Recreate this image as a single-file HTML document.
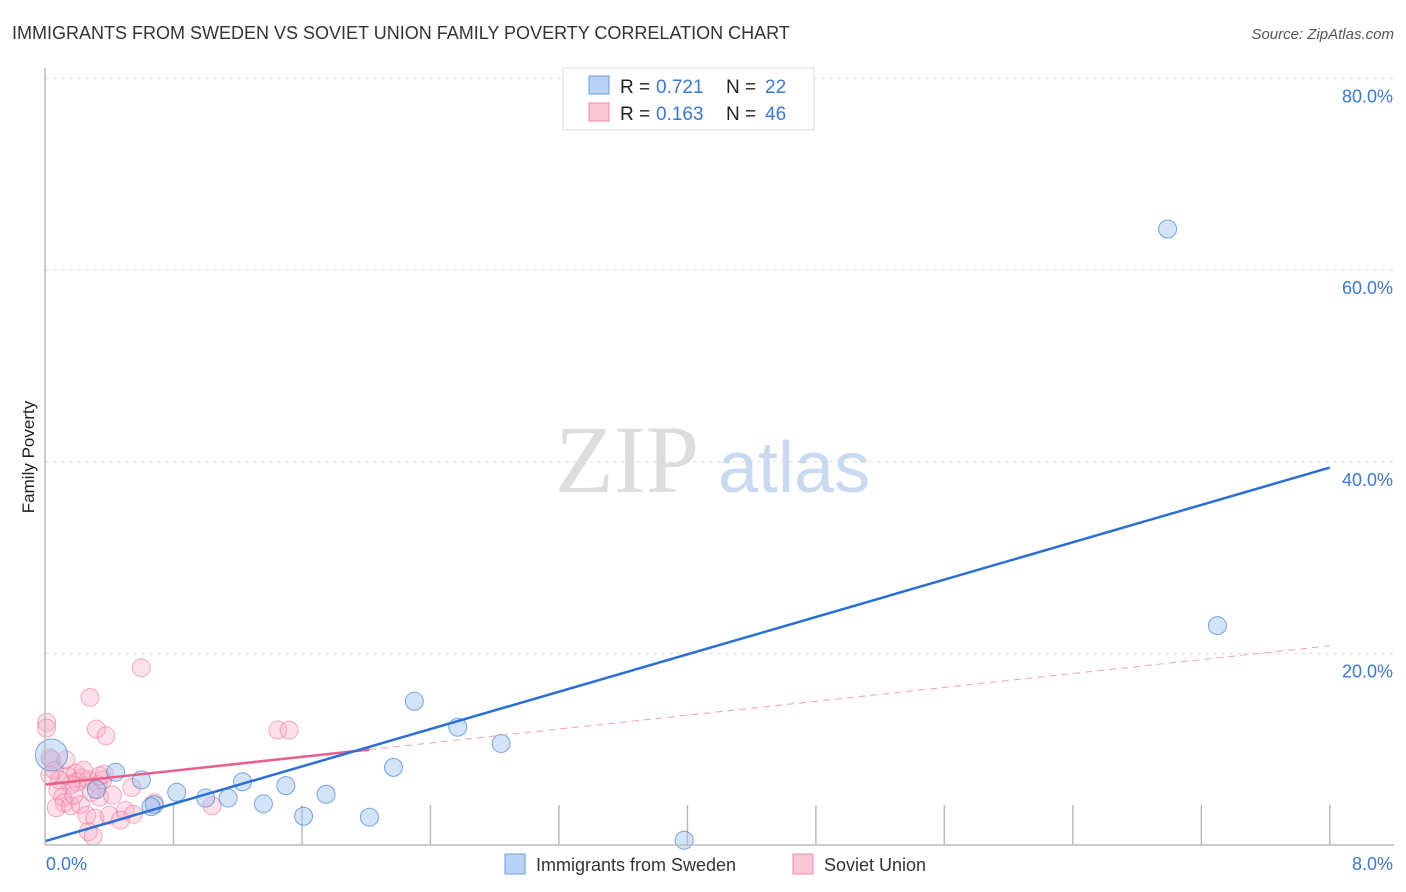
<!DOCTYPE html><html><head><meta charset="utf-8"><style>
body{margin:0;background:#fff;font-family:"Liberation Sans",sans-serif}
svg{display:block}
</style></head><body>
<svg width="1406" height="892">
<text x="12" y="39" font-size="18" fill="#333">IMMIGRANTS FROM SWEDEN VS SOVIET UNION FAMILY POVERTY CORRELATION CHART</text>
<text x="1394" y="39" font-size="15" fill="#555" text-anchor="end" font-style="italic">Source: ZipAtlas.com</text>
<text x="0" y="0" transform="translate(34,457) rotate(-90)" font-size="17" fill="#222" text-anchor="middle">Family Poverty</text>
<g id="grid"></g>
<text x="555" y="492" font-size="96" fill="#ddd" font-family="Liberation Serif">ZIP</text>
<text x="718" y="492" font-size="72" fill="#c9daf0">atlas</text>
<g id="marks"></g>
<line x1="45" y1="68" x2="45" y2="845" stroke="#bbb" stroke-width="1.5"/>
<line x1="45" y1="845" x2="1394" y2="845" stroke="#bbb" stroke-width="1.5"/>
<text x="46" y="870" font-size="18" fill="#3a78d8">0.0%</text>
<text x="1393" y="870" font-size="18" fill="#3a78d8" text-anchor="end">8.0%</text>
<g>
<rect x="563" y="68" width="251" height="62" fill="#fff" stroke="#ddd"/>
<rect x="589" y="76" width="20" height="18" fill="#b8d3f5" stroke="#6a9be0"/>
<rect x="589" y="103" width="20" height="18" fill="#fbc8d8" stroke="#ee8aaa"/>
<text x="620" y="93" font-size="19" fill="#222">R = </text><text x="656" y="93" font-size="19" fill="#3a78d8">0.721</text>
<text x="726" y="93" font-size="19" fill="#222">N = </text><text x="765" y="93" font-size="19" fill="#3a78d8">22</text>
<text x="620" y="120" font-size="19" fill="#222">R = </text><text x="656" y="120" font-size="19" fill="#3a78d8">0.163</text>
<text x="726" y="120" font-size="19" fill="#222">N = </text><text x="765" y="120" font-size="19" fill="#3a78d8">46</text>
</g>
<g>
<rect x="505" y="854" width="20" height="20" fill="#b8d3f5" stroke="#6a9be0"/>
<text x="536" y="871" font-size="18" fill="#333">Immigrants from Sweden</text>
<rect x="793" y="854" width="20" height="20" fill="#fbc8d8" stroke="#ee8aaa"/>
<text x="824" y="871" font-size="18" fill="#333">Soviet Union</text>
</g>
</svg>
<script>
const yTicks=[20,40,60,80];
const xTicks=[0.8,1.6,2.4,3.2,4.0,4.8,5.6,6.4,7.2,8.0];
const swedenX=[0.04,0.32,0.44,0.6,0.68,0.82,1.0,1.14,1.23,1.36,1.5,1.61,1.75,2.02,2.17,2.3,2.57,2.84,3.98,6.99,7.3,0.66];
const swedenY=[9.4,5.8,7.6,6.8,4.2,5.5,4.9,4.9,6.6,4.3,6.2,3.0,5.3,2.9,8.1,15.0,12.3,10.6,0.5,64.3,22.9,4.0];
const sovietX=[0.6,0.28,0.01,0.01,0.32,0.38,1.45,1.52,0.03,0.04,0.06,0.14,0.19,0.23,0.2,0.16,0.27,0.33,0.36,0.08,0.29,0.34,0.11,0.12,0.07,0.16,0.22,0.26,0.31,0.27,0.3,0.4,0.5,0.54,0.55,0.68,1.04,0.34,0.37,0.24,0.09,0.13,0.18,0.42,0.03,0.47];
const sovietY=[18.5,15.4,12.8,12.2,12.1,11.4,12.0,12.0,9.1,8.9,7.8,7.2,7.5,7.0,6.6,6.3,6.8,6.3,6.8,5.7,5.5,5.0,5.0,4.4,3.9,4.1,4.2,3.1,2.8,1.4,0.9,3.1,3.6,6.0,3.2,4.4,4.1,7.2,7.4,7.8,6.8,8.9,5.2,5.2,7.3,2.6];
const swedenFit=[0.4,39.4];
const sovietFit=[6.3,20.8];
const sovietSolidEnd=2.02;
const X=v=>45+v*160.6, Y=v=>845-v*9.58;
const NS='http://www.w3.org/2000/svg';
const grid=document.getElementById('grid'), marks=document.getElementById('marks');
function mk(tag,a,p){const e=document.createElementNS(NS,tag);for(const k in a)e.setAttribute(k,a[k]);p.appendChild(e);return e;}
yTicks.forEach(t=>{
 const l=mk('line',{x1:45,x2:1394,y1:Y(t),y2:Y(t),stroke:'#ddd','stroke-dasharray':'4,4'},grid);
 
 
 const tx=mk('text',{x:1393,y:Y(t)+24,'font-size':18,fill:'#3a78d8','text-anchor':'end'},grid);
 tx.textContent=t.toFixed(1)+'%';
 
 
});
xTicks.forEach(t=>{
 const l=mk('line',{x1:X(t),x2:X(t),y1:805,y2:845,stroke:'#bbb','stroke-width':1.5},grid);
 
 
});
sovietX.forEach((v,i)=>{
 const c=mk('circle',{cx:X(v),cy:Y(sovietY[i]),r:9,fill:'rgba(248,170,195,0.35)',stroke:'rgba(235,120,155,0.6)'},marks);
 
 
});
swedenX.forEach((v,i)=>{
 const c=mk('circle',{cx:X(v),cy:Y(swedenY[i]),r:i==0?16:9,fill:'rgba(160,195,240,0.45)',stroke:'rgba(70,130,215,0.7)'},marks);
 
 
});
const sv=v=>sovietFit[0]+(sovietFit[1]-sovietFit[0])*v/8;
const d=mk('line',{x1:X(sovietSolidEnd),y1:Y(sv(sovietSolidEnd)),x2:X(8),y2:Y(sovietFit[1]),stroke:'#f0a0b8','stroke-dasharray':'7,5','stroke-width':1},marks);


const s=mk('line',{x1:X(0),y1:Y(sovietFit[0]),x2:X(sovietSolidEnd),y2:Y(sv(sovietSolidEnd)),stroke:'#e8608a','stroke-width':2.5},marks);


const b=mk('line',{x1:X(0),y1:Y(swedenFit[0]),x2:X(8),y2:Y(swedenFit[1]),stroke:'#2a6fd6','stroke-width':2.5},marks);


</script>
</body></html>
